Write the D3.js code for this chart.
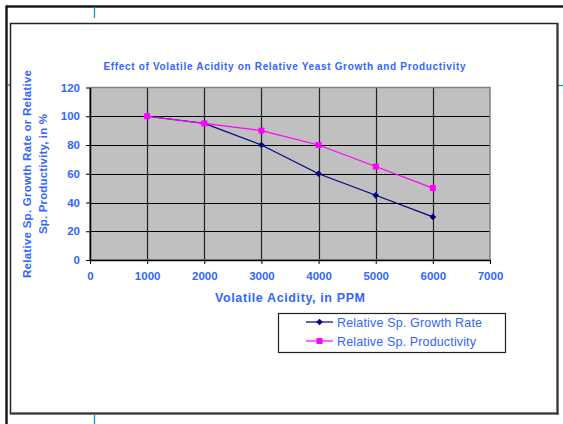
<!DOCTYPE html>
<html>
<head>
<meta charset="utf-8">
<script src="https://cdn.jsdelivr.net/npm/d3@7/dist/d3.min.js"></script>
<style>
  html, body { margin: 0; padding: 0; background: #fff; }
  svg { display: block; font-family: "Liberation Sans", Arial, sans-serif; }
</style>
</head>
<body>
<svg id="chart" width="563" height="424"></svg>
<script>
// ---- data ----
const acidity = [1000, 2000, 3000, 4000, 5000, 6000];
const growthRate = [100, 95, 80, 60, 45, 30];
const productivity = [100, 95, 90, 80, 65, 50];
const seriesNames = ["Relative Sp. Growth Rate", "Relative Sp. Productivity"];
const xTicks = [0, 1000, 2000, 3000, 4000, 5000, 6000, 7000];
const yTicks = [0, 20, 40, 60, 80, 100, 120];
const title = "Effect of Volatile Acidity on Relative Yeast Growth and Productivity";
const xTitle = "Volatile Acidity, in PPM";
const yTitle = ["Relative Sp. Growth Rate or Relative", "Sp. Productivity, in %"];

const textBlue = "#3366FF";
const svg = d3.select("#chart");

// page artifacts / frames
svg.append("line").attr("x1", 6).attr("x2", 563).attr("y1", 6.5).attr("y2", 6.5)
  .attr("stroke", "#1a1a1a").attr("stroke-width", 2.5);
svg.append("line").attr("x1", 6.5).attr("x2", 6.5).attr("y1", 5.5).attr("y2", 424)
  .attr("stroke", "#1a1a1a").attr("stroke-width", 2.5);
const cyan = "#1199CC";
[[94.5, 7, 94.5, 18], [94.5, 415, 94.5, 424], [8, 85, 10, 85], [558, 85.5, 563, 85.5]].forEach(d => {
  svg.append("line").attr("x1", d[0]).attr("y1", d[1]).attr("x2", d[2]).attr("y2", d[3])
    .attr("stroke", cyan).attr("stroke-width", 1.3);
});
// inner chart frame
svg.append("rect").attr("x", 10.5).attr("y", 23.5).attr("width", 547).attr("height", 390)
  .attr("fill", "#fff").attr("stroke", "#222").attr("stroke-width", 1.5);
svg.append("line").attr("x1", 557.5).attr("x2", 557.5).attr("y1", 23).attr("y2", 414.5)
  .attr("stroke", "#333").attr("stroke-width", 2);
svg.append("line").attr("x1", 10).attr("x2", 558.5).attr("y1", 413.5).attr("y2", 413.5)
  .attr("stroke", "#333").attr("stroke-width", 2);

// scales
const x = d3.scaleLinear().domain([0, 7000]).range([90, 490]);
const y = d3.scaleLinear().domain([0, 120]).range([260, 87.5]);

// plot area
svg.append("rect").attr("x", x(0)).attr("y", y(120)).attr("width", x(7000) - x(0))
  .attr("height", y(0) - y(120)).attr("fill", "#C0C0C0");

// gridlines
svg.append("g").selectAll("line").data(yTicks.filter(d => d > 0 && d < 120)).join("line")
  .attr("x1", x(0)).attr("x2", x(7000))
  .attr("y1", d => Math.round(y(d)) + 0.5).attr("y2", d => Math.round(y(d)) + 0.5)
  .attr("stroke", "#000").attr("stroke-width", 1);
svg.append("g").selectAll("line").data(xTicks.filter(d => d > 0 && d < 7000)).join("line")
  .attr("x1", d => Math.round(x(d)) + 0.5).attr("x2", d => Math.round(x(d)) + 0.5)
  .attr("y1", y(120)).attr("y2", y(0))
  .attr("stroke", "#222").attr("stroke-width", 1.2);

// plot border
svg.append("rect").attr("x", x(0)).attr("y", y(120)).attr("width", x(7000) - x(0))
  .attr("height", y(0) - y(120)).attr("fill", "none").attr("stroke", "#808080").attr("stroke-width", 1.5);

// axes
const yAxis = svg.append("g").attr("transform", `translate(${x(0)},0)`)
  .call(d3.axisLeft(y).tickValues(yTicks).tickSize(4).tickPadding(6).tickSizeOuter(0));
const xAxis = svg.append("g").attr("transform", `translate(0,${y(0)})`)
  .call(d3.axisBottom(x).tickValues(xTicks).tickSize(4).tickPadding(8).tickSizeOuter(0).tickFormat(d3.format("d")));
[yAxis, xAxis].forEach(g => {
  g.select(".domain").attr("stroke", "#000").attr("stroke-width", 1.5);
  g.selectAll(".tick line").attr("stroke", "#000").attr("stroke-width", 1);
  g.selectAll("text").attr("fill", textBlue).attr("font-size", 11.5).attr("font-weight", "bold")
    .attr("font-family", "'Liberation Sans', Arial, sans-serif");
});

// titles
svg.append("text").attr("x", 284.5).attr("y", 70).attr("text-anchor", "middle")
  .attr("fill", textBlue).attr("font-size", 10).attr("font-weight", "bold")
  .attr("textLength", 362).attr("lengthAdjust", "spacing").text(title);
svg.append("text").attr("x", 290).attr("y", 302).attr("text-anchor", "middle")
  .attr("fill", textBlue).attr("font-size", 12.5).attr("font-weight", "bold")
  .attr("textLength", 150).attr("lengthAdjust", "spacing").text(xTitle);
const yLens = [208, 120];
yTitle.forEach((t, i) => {
  svg.append("text").attr("transform", `translate(${30.5 + i * 16.5},174) rotate(-90)`)
    .attr("text-anchor", "middle").attr("fill", textBlue).attr("font-size", 11.5)
    .attr("font-weight", "bold").attr("textLength", yLens[i]).attr("lengthAdjust", "spacing").text(t);
});

// series
const line = d3.line().x(d => x(d[0])).y(d => y(d[1]));
const series = [
  { name: seriesNames[0], values: growthRate, color: "#000080", shape: d3.symbolSquare, size: 22, rot: 45 },
  { name: seriesNames[1], values: productivity, color: "#FF00FF", shape: d3.symbolSquare, size: 36, rot: 0 }
];
series.forEach(s => {
  const pts = acidity.map((a, i) => [a, s.values[i]]);
  svg.append("path").attr("d", line(pts)).attr("fill", "none").attr("stroke", s.color).attr("stroke-width", 1.2);
  svg.append("g").selectAll("path").data(pts).join("path")
    .attr("transform", d => `translate(${x(d[0])},${y(d[1])}) rotate(${s.rot})`)
    .attr("d", d3.symbol().type(s.shape).size(s.size)).attr("fill", s.color);
});

// legend
svg.append("rect").attr("x", 278.5).attr("y", 313.5).attr("width", 227).attr("height", 39)
  .attr("fill", "#fff").attr("stroke", "#222").attr("stroke-width", 1.2);
const legLens = [145, 139];
series.forEach((s, i) => {
  const ly = 322 + i * 19;
  svg.append("line").attr("x1", 306).attr("x2", 333).attr("y1", ly).attr("y2", ly)
    .attr("stroke", s.color).attr("stroke-width", 1.2);
  svg.append("path").attr("transform", `translate(319.5,${ly}) rotate(${s.rot})`)
    .attr("d", d3.symbol().type(s.shape).size(s.size)).attr("fill", s.color);
  svg.append("text").attr("x", 337).attr("y", ly + 4.5).attr("fill", textBlue)
    .attr("font-size", 12.5).attr("textLength", legLens[i]).attr("lengthAdjust", "spacing").text(s.name);
});
</script>
</body>
</html>
